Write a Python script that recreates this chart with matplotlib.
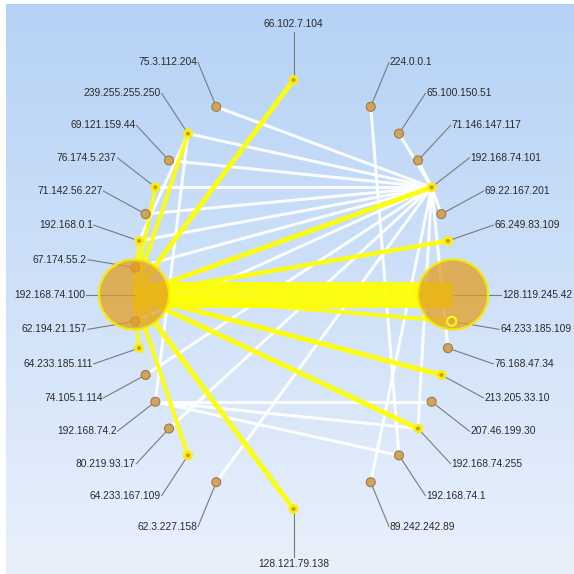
import numpy as np
import matplotlib.pyplot as plt
from matplotlib.patches import Circle

# nodes on the ring, top to bottom (k = 1..15 on each side, '' = empty slot)
top_node = '66.102.7.104'
bottom_node = '128.121.79.138'
left_nodes = ['75.3.112.204', '239.255.255.250', '69.121.159.44', '76.174.5.237',
              '71.142.56.227', '192.168.0.1', '67.174.55.2', '192.168.74.100',
              '62.194.21.157', '64.233.185.111', '74.105.1.114', '192.168.74.2',
              '80.219.93.17', '64.233.167.109', '62.3.227.158']
right_nodes = ['224.0.0.1', '65.100.150.51', '71.146.147.117', '192.168.74.101',
               '69.22.167.201', '66.249.83.109', '', '128.119.245.42',
               '64.233.185.109', '76.168.47.34', '213.205.33.10', '207.46.199.30',
               '192.168.74.255', '192.168.74.1', '89.242.242.89']

big_nodes = ['192.168.74.100', '128.119.245.42']
yellow_nodes = ['66.102.7.104', '239.255.255.250', '76.174.5.237', '192.168.0.1',
                '192.168.74.101', '66.249.83.109', '213.205.33.10', '192.168.74.255',
                '128.121.79.138', '64.233.167.109', '64.233.185.111']
ring_nodes = ['64.233.185.109']

# traffic from 192.168.74.100 (yellow), width in px
yellow_edges = [
    ('192.168.74.100', '128.119.245.42', 26),
    ('192.168.74.100', '66.102.7.104', 5),
    ('192.168.74.100', '239.255.255.250', 4),
    ('192.168.74.100', '76.174.5.237', 3.5),
    ('192.168.74.100', '192.168.0.1', 3.5),
    ('192.168.74.100', '192.168.74.101', 5),
    ('192.168.74.100', '66.249.83.109', 4.5),
    ('192.168.74.100', '64.233.185.109', 4),
    ('192.168.74.100', '213.205.33.10', 5),
    ('192.168.74.100', '192.168.74.255', 5),
    ('192.168.74.100', '128.121.79.138', 5),
    ('192.168.74.100', '64.233.167.109', 4),
    ('192.168.74.100', '64.233.185.111', 3.5),
]
# other traffic (white)
white_edges = [
    ('192.168.74.101', '75.3.112.204'), ('192.168.74.101', '239.255.255.250'),
    ('192.168.74.101', '69.121.159.44'), ('192.168.74.101', '76.174.5.237'),
    ('192.168.74.101', '71.142.56.227'), ('192.168.74.101', '192.168.0.1'),
    ('192.168.74.101', '67.174.55.2'), ('192.168.74.101', '62.194.21.157'),
    ('192.168.74.101', '74.105.1.114'), ('192.168.74.101', '80.219.93.17'),
    ('192.168.74.101', '62.3.227.158'), ('192.168.74.101', '89.242.242.89'),
    ('192.168.74.101', '192.168.74.255'), ('192.168.74.101', '76.168.47.34'),
    ('192.168.74.101', '69.22.167.201'), ('192.168.74.101', '71.146.147.117'),
    ('192.168.74.101', '65.100.150.51'),
    ('239.255.255.250', '192.168.74.2'), ('239.255.255.250', '192.168.0.1'),
    ('192.168.74.2', '207.46.199.30'), ('192.168.74.2', '192.168.74.255'),
    ('192.168.74.2', '192.168.74.1'), ('224.0.0.1', '192.168.74.1'),
]

# ---- layout: ellipse, equally spaced rows ----
cx, cy = 293.5, 294.5
A, B = 159.5, 214.5
pos = {}
def slot(side, k):
    c = 1 - k / 8.0
    s = np.sqrt(max(0.0, 1 - c * c))
    return cx + side * A * s, cy - B * c

pos[top_node] = slot(1, 0)
pos[bottom_node] = slot(1, 16)
for i, n in enumerate(left_nodes):
    pos[n] = slot(-1, i + 1)
for i, n in enumerate(right_nodes):
    if n:
        pos[n] = slot(1, i + 1)

px = 0.72  # px -> pt at 100 dpi
fs = 7.4
fig = plt.figure(figsize=(5.74, 5.74), dpi=100)
ax = fig.add_axes([0, 0, 1, 1])
ax.set_xlim(0, 574)
ax.set_ylim(574, 0)
ax.axis('off')

# background gradient
top_c = np.array([181, 210, 246]) / 255
bot_c = np.array([233, 240, 251]) / 255
t = np.linspace(0, 1, 256)[:, None, None]
grad = top_c * (1 - t) + bot_c * t
grad = np.repeat(grad, 2, axis=1)
ax.imshow(grad, extent=[6, 574, 574, 4], aspect='auto', zorder=0)

for a, b in white_edges:
    (x1, y1), (x2, y2) = pos[a], pos[b]
    ax.plot([x1, x2], [y1, y2], color='white', lw=3 * px, alpha=0.92,
            solid_capstyle='butt', zorder=1)
for a, b, w in yellow_edges:
    (x1, y1), (x2, y2) = pos[a], pos[b]
    ax.plot([x1, x2], [y1, y2], color='#ffff00', lw=w * px, alpha=0.92,
            solid_capstyle='butt', zorder=2)

# leader lines + labels
for n, (x, y) in pos.items():
    dx, dy = x - cx, y - cy
    d = np.hypot(dx, dy)
    lx, ly = x + 48 * dx / d, y + 48 * dy / d
    ax.plot([x, lx], [y, ly], color='#7a7a7a', lw=0.8, zorder=3)
    if n == top_node:
        ax.text(lx, ly - 3, n, ha='center', va='bottom', fontsize=fs,
                family='Liberation Sans', color='#2a2a2a', zorder=6)
    elif n == bottom_node:
        ax.text(lx, ly + 2, n, ha='center', va='top', fontsize=fs,
                family='Liberation Sans', color='#2a2a2a', zorder=6)
    elif dx < 0:
        ax.text(lx - 1, ly, n, ha='right', va='center', fontsize=fs,
                family='Liberation Sans', color='#2a2a2a', zorder=6)
    else:
        ax.text(lx + 1, ly, n, ha='left', va='center', fontsize=fs,
                family='Liberation Sans', color='#2a2a2a', zorder=6)

# nodes
for n, (x, y) in pos.items():
    if n in big_nodes:
        ax.add_patch(Circle((x, y), 35, facecolor='#e39e24', alpha=0.75,
                            edgecolor='none', zorder=4))
        ax.add_patch(Circle((x, y), 35, facecolor='none', edgecolor='#f5ea00',
                            lw=2.2 * px, zorder=4))
    elif n in yellow_nodes:
        ax.add_patch(Circle((x, y), 5, facecolor='#f7ee10', edgecolor='none', zorder=3.5))
        ax.add_patch(Circle((x, y), 2, facecolor='#c89a10', edgecolor='none', zorder=3.6))
    elif n in ring_nodes:
        ax.add_patch(Circle((x, y), 4.5, facecolor='#d9a855', edgecolor='#ffff00',
                            lw=2 * px, zorder=5))
    else:
        ax.add_patch(Circle((x, y), 4.5, facecolor='#d2a35a', edgecolor='#9c7a45',
                            lw=1.1 * px, zorder=3.5))

fig.savefig('out.png', dpi=100)
